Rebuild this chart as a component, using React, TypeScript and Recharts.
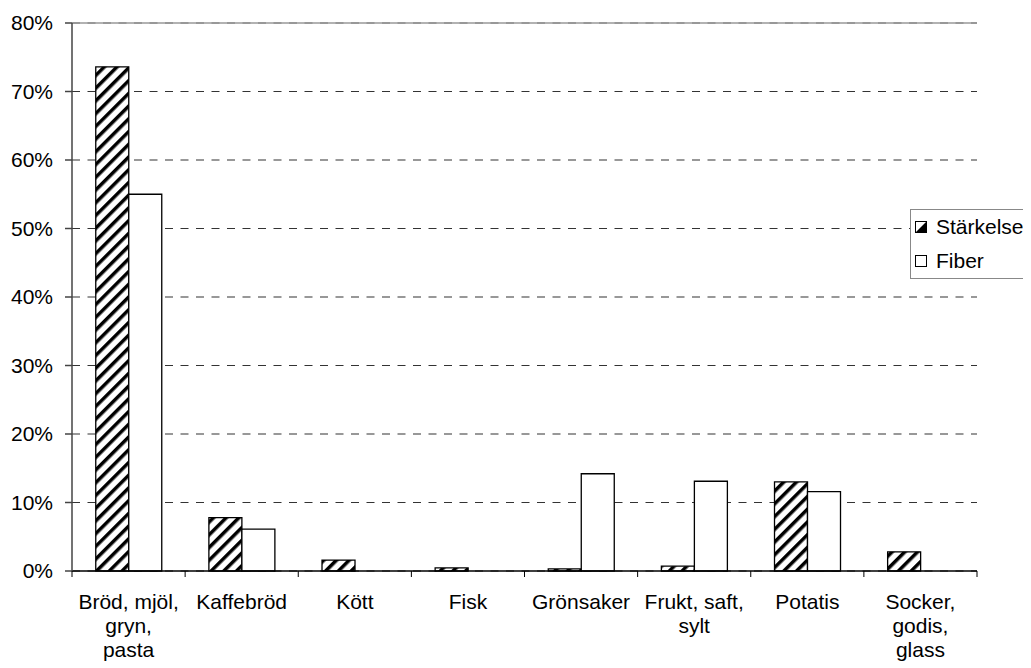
import React from 'react';
import { Bar, BarChart, CartesianGrid, ReferenceLine, XAxis, YAxis } from 'recharts';

const categories = [
  'Bröd, mjöl, gryn, pasta',
  'Kaffebröd',
  'Kött',
  'Fisk',
  'Grönsaker',
  'Frukt, saft, sylt',
  'Potatis',
  'Socker, godis, glass',
];

// how each category label wraps under the axis
const tickLines = [
  ['Bröd, mjöl,', 'gryn,', 'pasta'],
  ['Kaffebröd'],
  ['Kött'],
  ['Fisk'],
  ['Grönsaker'],
  ['Frukt, saft,', 'sylt'],
  ['Potatis'],
  ['Socker,', 'godis,', 'glass'],
];

const starkelse = [73.6, 7.8, 1.6, 0.45, 0.3, 0.7, 13.0, 2.8];
const fiber = [55.0, 6.1, 0, 0, 14.2, 13.1, 11.6, 0];

const yTicks = [0, 10, 20, 30, 40, 50, 60, 70, 80];

const data = categories.map((name, i) => ({
  name,
  starkelse: starkelse[i],
  fiber: fiber[i],
}));

const FONT = '"Liberation Sans", Arial, sans-serif';

function CategoryTick(props: any) {
  const { x, y, payload, index, width, visibleTicksCount } = props;
  const bw = width && visibleTicksCount ? width / visibleTicksCount : 113.125;
  const lines = tickLines[index] ?? [payload.value];
  const isLast = index === categories.length - 1;
  return (
    <g>
      <line x1={x - bw / 2} x2={x - bw / 2} y1={y} y2={y + 6} stroke="#000" strokeWidth={1} />
      {isLast && <line x1={x + bw / 2} x2={x + bw / 2} y1={y} y2={y + 6} stroke="#000" strokeWidth={1} />}
      <text x={x} y={y} textAnchor="middle" fontSize={21} fontFamily={FONT} fill="#000">
        {lines.map((l: string, i: number) => (
          <tspan key={i} x={x} y={y + 38 + i * 24}>
            {l}
          </tspan>
        ))}
      </text>
    </g>
  );
}

function HatchSwatch() {
  return (
    <svg width={12} height={12} style={{ display: 'block' }}>
      <rect x={0.5} y={0.5} width={11} height={11} fill="#fff" stroke="#000" strokeWidth={1} />
      <polygon points="1,11 11,1 11,11" fill="#000" />
    </svg>
  );
}

function PlainSwatch() {
  return (
    <svg width={12} height={12} style={{ display: 'block' }}>
      <rect x={0.5} y={0.5} width={11} height={11} fill="#fff" stroke="#000" strokeWidth={1} />
    </svg>
  );
}

export default function App() {
  return (
    <div style={{ position: 'relative', width: 1023, height: 660, fontFamily: FONT }}>
      <BarChart
        width={1023}
        height={660}
        data={data}
        margin={{ top: 15, right: 54, left: 0, bottom: 0 }}
        barCategoryGap="21%"
        barGap={0}
      >
        <defs>
          <pattern
            id="hatch"
            patternUnits="userSpaceOnUse"
            width={9}
            height={9}
            patternTransform="rotate(45)"
          >
            <rect width={9} height={9} fill="#fff" />
            <rect width={3.5} height={9} fill="#000" />
          </pattern>
        </defs>
        <CartesianGrid yAxisId="left" vertical={false} stroke="#333" strokeWidth={1.2} strokeDasharray="8 7.5" />
        <XAxis
          dataKey="name"
          height={97}
          interval={0}
          tickLine={false}
          tickSize={0}
          tickMargin={0}
          axisLine={{ stroke: '#000', strokeWidth: 1.5 }}
          tick={<CategoryTick />}
        />
        <YAxis
          yAxisId="left"
          width={64}
          domain={[0, 80]}
          ticks={yTicks}
          interval={0}
          tickFormatter={(v) => `${v}%`}
          tickSize={7}
          tickMargin={12}
          axisLine={{ stroke: '#444', strokeWidth: 1.5 }}
          tickLine={{ stroke: '#444', strokeWidth: 1.5 }}
          tick={{ fill: '#000', fontSize: 21, fontFamily: FONT }}
        />
        <YAxis
          yAxisId="right"
          orientation="right"
          width={0}
          domain={[0, 80]}
          tick={false}
          tickLine={false}
          axisLine={{ stroke: '#999', strokeWidth: 1.5 }}
        />
        <ReferenceLine yAxisId="left" y={80} stroke="#999" strokeWidth={1.5} />
        <Bar
          yAxisId="left"
          dataKey="starkelse"
          name="Stärkelse"
          fill="url(#hatch)"
          stroke="#000"
          strokeWidth={1.3}
          isAnimationActive={false}
        />
        <Bar
          yAxisId="left"
          dataKey="fiber"
          name="Fiber"
          fill="#fff"
          stroke="#000"
          strokeWidth={1.3}
          isAnimationActive={false}
        />
      </BarChart>
      <div
        style={{
          position: 'absolute',
          left: 902,
          top: 201,
          width: 121,
          height: 70,
          boxSizing: 'border-box',
          border: '1px solid #888',
          background: '#fff',
          fontSize: 21,
          color: '#000',
        }}
      >
        <div style={{ display: 'flex', alignItems: 'center', height: 34, paddingLeft: 4 }}>
          <HatchSwatch />
          <span style={{ marginLeft: 9 }}>Stärkelse</span>
        </div>
        <div style={{ display: 'flex', alignItems: 'center', height: 34, paddingLeft: 4 }}>
          <PlainSwatch />
          <span style={{ marginLeft: 9 }}>Fiber</span>
        </div>
      </div>
    </div>
  );
}
